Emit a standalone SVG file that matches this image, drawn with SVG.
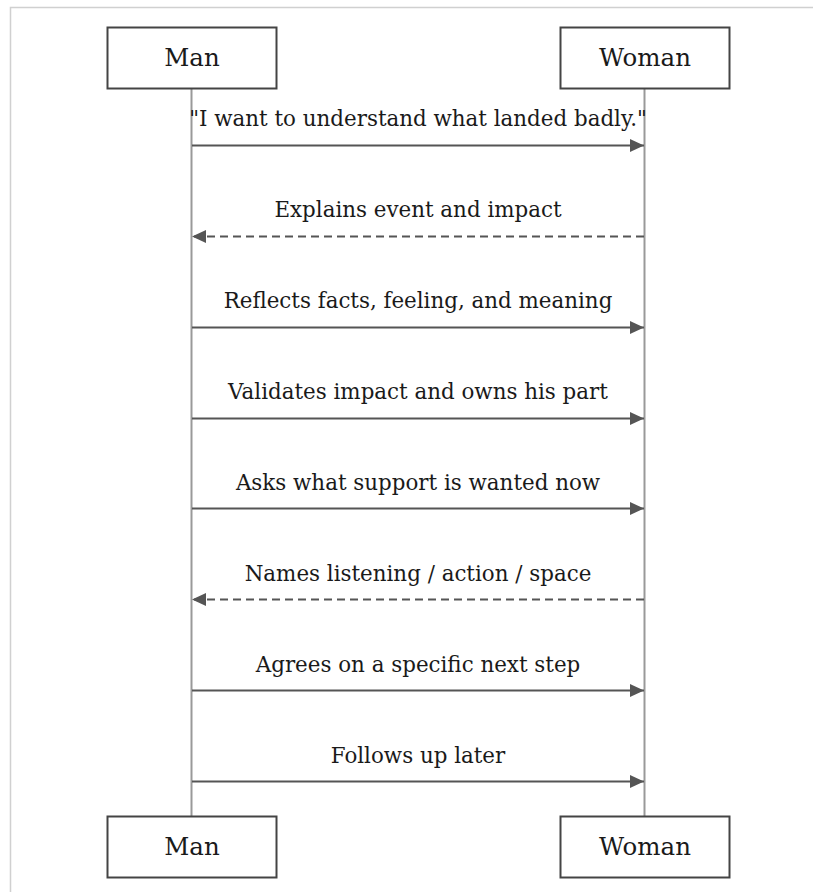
<svg xmlns="http://www.w3.org/2000/svg" width="813" height="892" viewBox="0 0 813 892">
<style>
.box{fill:#fff;stroke:#444;stroke-width:2}
.life{stroke:#999;stroke-width:2}
.msg{stroke:#555;stroke-width:2;fill:none}
.dash{stroke-dasharray:8 5}
.t{font-family:"DejaVu Serif",serif;fill:#1a1a1a;text-anchor:middle}
.actor{font-size:24.5px}
.lbl{font-size:21.4px}
</style>
<defs>
<marker id="ah" viewBox="0 0 14 13" refX="14" refY="6.5" markerWidth="14" markerHeight="13" markerUnits="userSpaceOnUse" orient="auto">
<path d="M0,0 L14,6.5 L0,13 z" fill="#555"/>
</marker>
</defs>
<rect x="10.5" y="7.5" width="820" height="900" fill="none" stroke="#d0d0d0" stroke-width="1.5"/>
<g id="lifelines">
<line class="life" x1="191.5" y1="88" x2="191.5" y2="817"/>
<line class="life" x1="644.5" y1="88" x2="644.5" y2="817"/>
</g>
<g id="man-top"><rect class="box" x="107.5" y="27.5" width="169" height="61"/><text class="t actor" x="192" y="66">Man</text></g>
<g id="woman-top"><rect class="box" x="560.5" y="27.5" width="169" height="61"/><text class="t actor" x="645" y="66">Woman</text></g>
<g id="man-bottom"><rect class="box" x="107.5" y="816.5" width="169" height="61"/><text class="t actor" x="192" y="855">Man</text></g>
<g id="woman-bottom"><rect class="box" x="560.5" y="816.5" width="169" height="61"/><text class="t actor" x="645" y="855">Woman</text></g>
<g id="connectors">
<line class="msg" x1="192" y1="145.5" x2="644" y2="145.5" marker-end="url(#ah)"/>
<line class="msg dash" x1="644" y1="236.5" x2="192" y2="236.5" marker-end="url(#ah)"/>
<line class="msg" x1="192" y1="327.5" x2="644" y2="327.5" marker-end="url(#ah)"/>
<line class="msg" x1="192" y1="418.5" x2="644" y2="418.5" marker-end="url(#ah)"/>
<line class="msg" x1="192" y1="508.5" x2="644" y2="508.5" marker-end="url(#ah)"/>
<line class="msg dash" x1="644" y1="599.5" x2="192" y2="599.5" marker-end="url(#ah)"/>
<line class="msg" x1="192" y1="690.5" x2="644" y2="690.5" marker-end="url(#ah)"/>
<line class="msg" x1="192" y1="781.5" x2="644" y2="781.5" marker-end="url(#ah)"/>
</g>
<g id="labels">
<text class="t lbl" x="418" y="126">"I want to understand what landed badly."</text>
<text class="t lbl" x="418" y="217">Explains event and impact</text>
<text class="t lbl" x="418" y="308">Reflects facts, feeling, and meaning</text>
<text class="t lbl" x="418" y="399">Validates impact and owns his part</text>
<text class="t lbl" x="418" y="490">Asks what support is wanted now</text>
<text class="t lbl" x="418" y="581">Names listening / action / space</text>
<text class="t lbl" x="418" y="672">Agrees on a specific next step</text>
<text class="t lbl" x="418" y="763">Follows up later</text>
</g>
</svg>
